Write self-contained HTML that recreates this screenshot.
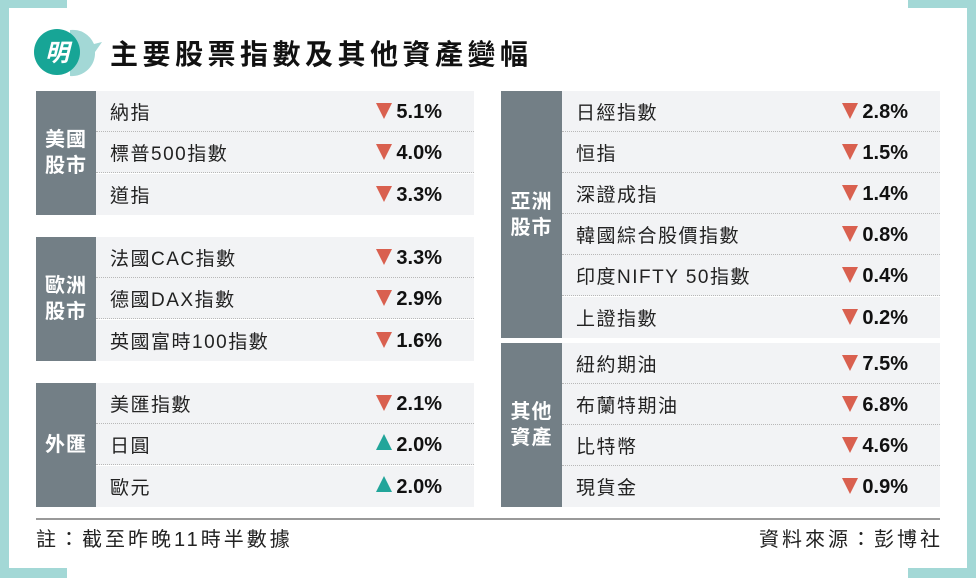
<!DOCTYPE html>
<html><head><meta charset="utf-8"><style>
*{margin:0;padding:0;box-sizing:border-box}
body{width:976px;height:578px;background:#fff;position:relative;overflow:hidden;font-family:"Liberation Sans","Noto Sans CJK TC",sans-serif;color:#222}
.b{position:absolute;background:#a3d8d6}
.title{position:absolute;left:110px;top:33px;font-size:28px;font-weight:bold;color:#111;letter-spacing:4.5px;font-family:"Liberation Sans","Noto Sans CJK TC",sans-serif}
.lab{position:absolute;background:#737f86;color:#fff;font-weight:bold;font-size:20px;line-height:26px;display:flex;align-items:center;justify-content:center;text-align:center;letter-spacing:1px}
.row{position:absolute;background:#f2f3f5;height:41px;border-bottom:1px dotted #b8b8b8}
.row.last{border-bottom:none}
.n{position:absolute;left:14px;top:2px;height:41px;line-height:41px;font-size:19px;color:#222;letter-spacing:1.5px}
.v{position:absolute;right:32px;top:1px;height:41px;line-height:41px;font-size:20px;font-weight:bold;color:#111}
.t{display:inline-block;width:0;height:0;border-left:8px solid transparent;border-right:8px solid transparent;border-top:16px solid #d9604f;margin-right:4px;vertical-align:-1px}
.u{border-top:none;border-bottom:16px solid #22a59a;vertical-align:1px}
.foot{position:absolute;top:523px;font-size:20px;color:#222;letter-spacing:3px}
</style></head><body>
<div class="b" style="left:0;top:0;width:9px;height:578px"></div>
<div class="b" style="left:0;top:0;width:67px;height:8px"></div>
<div class="b" style="left:0;top:568px;width:67px;height:10px"></div>
<div class="b" style="left:967px;top:0;width:9px;height:578px"></div>
<div class="b" style="left:908px;top:0;width:68px;height:8px"></div>
<div class="b" style="left:908px;top:568px;width:68px;height:10px"></div>
<svg style="position:absolute;left:30px;top:26px" width="80" height="54">
<path d="M40 4 A23 23 0 0 1 64 18 L72 16 L65 26 A23 23 0 0 1 40 50 Z" fill="#a3d8d6"/>
<circle cx="27" cy="26" r="23" fill="#17a596"/>
<text x="27" y="35" font-size="24" font-weight="bold" fill="#fff" text-anchor="middle" font-style="italic" font-family="Noto Sans CJK TC,sans-serif">明</text>
</svg>
<div class="title">主要股票指數及其他資產變幅</div>

<div class="lab" style="left:36px;top:91px;width:60px;height:124px">美國<br>股市</div>
<div class="row" style="left:96px;top:91px;width:378px"><span class="n">納指</span><span class="v"><i class="t"></i>5.1%</span></div>
<div class="row" style="left:96px;top:132px;width:378px"><span class="n">標普500指數</span><span class="v"><i class="t"></i>4.0%</span></div>
<div class="row last" style="left:96px;top:174px;width:378px"><span class="n">道指</span><span class="v"><i class="t"></i>3.3%</span></div>

<div class="lab" style="left:36px;top:237px;width:60px;height:124px">歐洲<br>股市</div>
<div class="row" style="left:96px;top:237px;width:378px"><span class="n">法國CAC指數</span><span class="v"><i class="t"></i>3.3%</span></div>
<div class="row" style="left:96px;top:278px;width:378px"><span class="n">德國DAX指數</span><span class="v"><i class="t"></i>2.9%</span></div>
<div class="row last" style="left:96px;top:320px;width:378px"><span class="n">英國富時100指數</span><span class="v"><i class="t"></i>1.6%</span></div>

<div class="lab" style="left:36px;top:383px;width:60px;height:124px">外匯</div>
<div class="row" style="left:96px;top:383px;width:378px"><span class="n">美匯指數</span><span class="v"><i class="t"></i>2.1%</span></div>
<div class="row" style="left:96px;top:424px;width:378px"><span class="n">日圓</span><span class="v"><i class="t u"></i>2.0%</span></div>
<div class="row last" style="left:96px;top:466px;width:378px"><span class="n">歐元</span><span class="v"><i class="t u"></i>2.0%</span></div>

<div class="lab" style="left:501px;top:91px;width:61px;height:247px">亞洲<br>股市</div>
<div class="row" style="left:562px;top:91px;width:378px"><span class="n">日經指數</span><span class="v"><i class="t"></i>2.8%</span></div>
<div class="row" style="left:562px;top:132px;width:378px"><span class="n">恒指</span><span class="v"><i class="t"></i>1.5%</span></div>
<div class="row" style="left:562px;top:173px;width:378px"><span class="n">深證成指</span><span class="v"><i class="t"></i>1.4%</span></div>
<div class="row" style="left:562px;top:214px;width:378px"><span class="n">韓國綜合股價指數</span><span class="v"><i class="t"></i>0.8%</span></div>
<div class="row" style="left:562px;top:255px;width:378px"><span class="n">印度NIFTY 50指數</span><span class="v"><i class="t"></i>0.4%</span></div>
<div class="row last" style="left:562px;top:297px;width:378px"><span class="n">上證指數</span><span class="v"><i class="t"></i>0.2%</span></div>

<div class="lab" style="left:501px;top:343px;width:61px;height:164px">其他<br>資產</div>
<div class="row" style="left:562px;top:343px;width:378px"><span class="n">紐約期油</span><span class="v"><i class="t"></i>7.5%</span></div>
<div class="row" style="left:562px;top:384px;width:378px"><span class="n">布蘭特期油</span><span class="v"><i class="t"></i>6.8%</span></div>
<div class="row" style="left:562px;top:425px;width:378px"><span class="n">比特幣</span><span class="v"><i class="t"></i>4.6%</span></div>
<div class="row last" style="left:562px;top:466px;width:378px"><span class="n">現貨金</span><span class="v"><i class="t"></i>0.9%</span></div>

<div style="position:absolute;left:36px;top:518px;width:904px;height:2px;background:#999"></div>
<div class="foot" style="left:36px">註：截至昨晚11時半數據</div>
<div class="foot" style="right:33px">資料來源：彭博社</div>
</body></html>
